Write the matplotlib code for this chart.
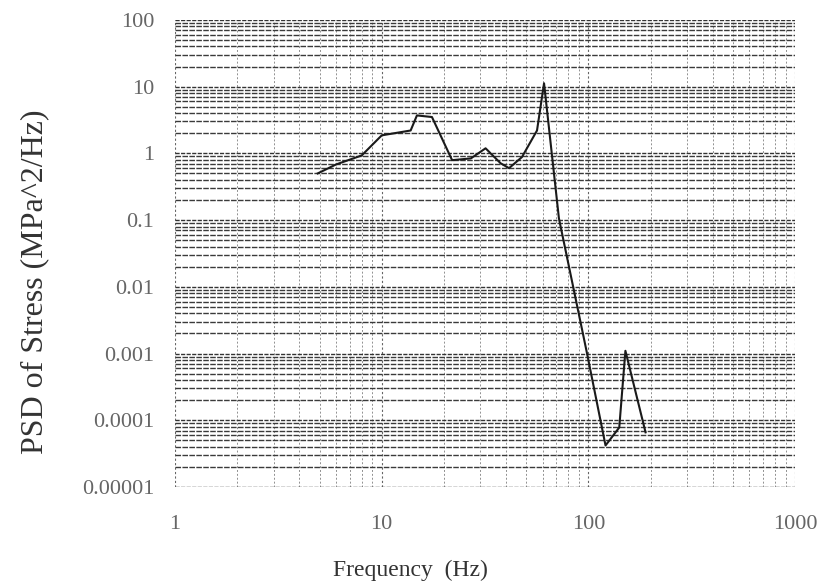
import matplotlib.pyplot as plt
import numpy as np
from matplotlib.ticker import LogLocator, FixedLocator, NullFormatter

# PSD of stress
freq = [4.9, 6.0, 8.0, 10.0, 13.8, 14.8, 17.5, 21.9, 27.0, 31.8, 37.6, 41.3, 47.7, 56.4, 61.0, 72.0, 98.5, 121.0, 141.0, 151.0, 189.0]
psd = [0.5, 0.68, 0.93, 1.86, 2.2, 3.7, 3.5, 0.79, 0.84, 1.19, 0.71, 0.6, 0.88, 2.2, 11.2, 0.106, 0.001, 4.2e-5, 7.8e-5, 1.1e-3, 6.6e-5]

x_ticks = [1, 10, 100, 1000]
x_labels = ['1', '10', '100', '1000']
y_ticks = [1e-5, 1e-4, 1e-3, 1e-2, 1e-1, 1, 10, 100]
y_labels = ['0.00001', '0.0001', '0.001', '0.01', '0.1', '1', '10', '100']

plt.rcParams['font.family'] = ['Liberation Serif', 'DejaVu Serif']

fig = plt.figure(figsize=(8.18, 5.84), dpi=100)
ax = fig.add_axes([0.214, 0.166, 0.758, 0.800])

ax.set_xscale('log')
ax.set_yscale('log')
ax.set_xlim(1, 1000)
ax.set_ylim(1e-5, 100)

# dense log-paper grid
ax.xaxis.set_minor_locator(LogLocator(base=10, subs=np.arange(2, 10), numticks=20))
ax.yaxis.set_minor_locator(LogLocator(base=10, subs=np.arange(2, 10), numticks=20))
ax.xaxis.set_minor_formatter(NullFormatter())
ax.yaxis.set_minor_formatter(NullFormatter())
ax.grid(True, which='major', axis='y', color='#333333', lw=1.0, ls=(0, (3, 1)))
ax.grid(True, which='minor', axis='y', color='#3a3a3a', lw=1.0, ls=(0, (4, 1)))
ax.grid(True, which='major', axis='x', color='#666666', lw=0.8, ls=(0, (2, 2)))
ax.grid(True, which='minor', axis='x', color='#909090', lw=0.7, ls=(0, (2, 2)))

ax.xaxis.set_major_locator(FixedLocator(x_ticks))
ax.set_xticklabels(x_labels)
ax.yaxis.set_major_locator(FixedLocator(y_ticks))
ax.set_yticklabels(y_labels)

for s in ax.spines.values():
    s.set_visible(False)
ax.tick_params(which='both', length=0, labelsize=16, labelcolor='#666666')
ax.tick_params(axis='y', pad=15)
ax.tick_params(axis='x', pad=20)

ax.plot(freq, psd, color='#1a1a1a', lw=1.5)

ax.set_xlabel('Frequency  (Hz)', fontsize=17, color='#333333')
ax.xaxis.set_label_coords(0.38, -0.155)
ax.set_ylabel('PSD of Stress (MPa^2/Hz)', fontsize=23, color='#333333')
ax.yaxis.set_label_coords(-0.203, 0.44)

fig.savefig('out.png', dpi=100)
